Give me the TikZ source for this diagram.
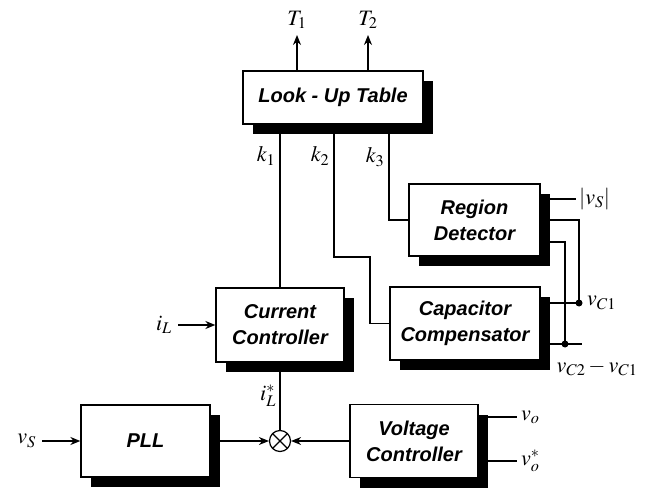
\documentclass[tikz,border=0pt]{standalone}
\usepackage{mathptmx}
\usepackage{fontspec}
\setsansfont{Liberation Sans}
\usepackage{tikz}
\usetikzlibrary{arrows.meta,positioning,shadows}
\tikzset{
  blk/.style ={draw, line width=1.3pt, fill=white, align=center, inner sep=0pt, font=\sffamily\bfseries\itshape\fontsize{20}{26}\selectfont, drop shadow={shadow xshift=10pt, shadow yshift=-10pt, fill=black, opacity=1}},
  summer/.style={draw, circle, line width=1.2pt, fill=white, minimum size=21pt, inner sep=0pt, path picture={\draw[line width=1.1pt] (path picture bounding box.north west)--(path picture bounding box.south east) (path picture bounding box.north east)--(path picture bounding box.south west);}},
  lab/.style ={inner sep=0pt, font=\fontsize{22}{24}\selectfont},
  wire/.style={line width=1.3pt},
  arr/.style ={wire, -{Stealth[length=10pt,width=8pt]}},
  jdot/.style={circle, fill, inner sep=0pt, minimum size=7pt},
}
\begin{document}
\begin{tikzpicture}[x=1pt, y=-1pt]
  \useasboundingbox (0,0) rectangle (653,489);
  \node[blk, minimum width=180pt, minimum height=53pt] (lut) at (333,97.5) {Look - Up Table};
  \node[blk, minimum width=131pt, minimum height=72pt] (region) at (474.5,220) {Region\\Detector};
  \node[blk, minimum width=150pt, minimum height=73pt] (cap) at (465,323.5) {Capacitor\\Compensator};
  \node[blk, minimum width=128pt, minimum height=74pt] (cur) at (280,325) {Current\\Controller};
  \node[blk, minimum width=129pt, minimum height=72pt] (pll) at (145.5,441) {PLL};
  \node[blk, minimum width=128pt, minimum height=73pt] (volt) at (414,441) {Voltage\\Controller};
  \node[summer] (sum) at (280,441) {};

  \coordinate (t1) at (297,35);
  \coordinate (t2) at (368,35);
  \draw[arr] (t1 |- lut.north) -- (t1);
  \draw[arr] (t2 |- lut.north) -- (t2);
  \node[lab, above=6pt] (t1lab) at (t1) {$T_1$};
  \node[lab, above=6pt] (t2lab) at (t2) {$T_2$};

  \coordinate (k2a) at (334,257);
  \coordinate (k2b) at (370,257);
  \coordinate (k3a) at (389,220);
  \draw[wire] (lut.south -| cur.north) -- (cur.north);
  \draw[wire] (k2a |- lut.south) -- (k2a) -- (k2b) |- (cap.west);
  \draw[wire] (k3a |- lut.south) -- (k3a) -- (region.west);
  \node[lab] (k1lab) at (266,156) {$k_1$};
  \node[lab] (k2lab) at (320,156) {$k_2$};
  \node[lab] (k3lab) at (375,157) {$k_3$};

  \coordinate (vsabs) at (576,199);
  \coordinate (vc1) at (579,303);
  \coordinate (rd3) at (565,242);
  \coordinate (vcd) at (565,344);
  \coordinate (vcdend) at (582,344);
  \draw[wire] (region.east |- vsabs) -- (vsabs);
  \draw[wire] (region.east) -| (vc1);
  \draw[wire] (region.east |- rd3) -- (rd3) -- (vcd);
  \draw[wire] (cap.east |- vc1) -- (vc1);
  \draw[wire] (cap.east |- vcd) -- (vcdend);
  \node[jdot] (vc1dot) at (vc1) {};
  \node[jdot] (vcddot) at (vcd) {};
  \node[lab, right=3pt] (vsabslab) at (vsabs) {$|v_S|$};
  \node[lab, right=8pt] (vc1lab) at (vc1) {$v_{C1}$};
  \node[lab] (vcdlab) at (597,368) {$v_{C2}-v_{C1}$};

  \coordinate (il) at (178,325);
  \coordinate (vsin) at (42,441);
  \coordinate (vo) at (517,417);
  \coordinate (vos) at (517,461);
  \draw[arr] (il) -- (cur.west);
  \node[lab, left=6pt] (illab) at (il) {$i_L$};
  \draw[wire] (cur.south) -- (sum.north);
  \node[lab] (ilslab) at (268,396) {$i_L^*$};
  \draw[arr] (vsin) -- (pll.west);
  \node[lab, left=6pt] (vslab) at (vsin) {$v_S$};
  \draw[arr] (pll.east) -- (sum.west);
  \draw[arr] (volt.west) -- (sum.east);
  \draw[wire] (volt.east |- vo) -- (vo);
  \draw[wire] (volt.east |- vos) -- (vos);
  \node[lab, right=4pt] (volab) at (vo) {$v_o$};
  \node[lab, right=4pt] (voslab) at (vos) {$v_o^*$};
\end{tikzpicture}
\end{document}
